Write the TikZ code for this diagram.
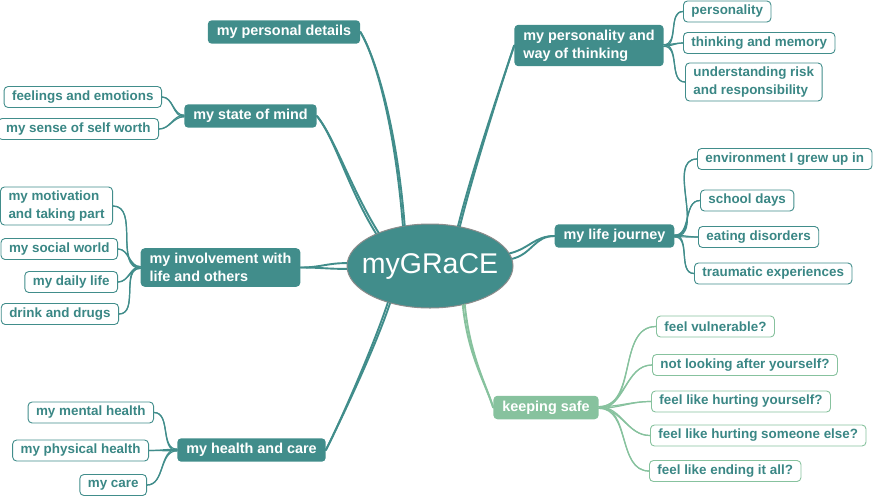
\documentclass[tikz,border=0pt]{standalone}
\usepackage{fontspec}
\setmainfont{Liberation Sans}
\usepackage{xcolor}
\usepackage{tikz}
\usetikzlibrary{
    positioning,
    shapes.geometric,
    calc,
}
\definecolor{grTeal}{RGB}{65,141,139}
\definecolor{grText}{RGB}{58,135,133}
\definecolor{grGreen}{RGB}{135,194,158}

\begin{document}
\begin{tikzpicture}[
        x=1pt, y=-1pt,
        root/.style={
            ellipse, draw=gray!90, line width=1pt, fill=grTeal, text=white,
            inner sep=0pt, minimum width=166pt, minimum height=84pt,
            font=\fontsize{28.5}{30}\selectfont
        },
        branch/.style={
            rectangle, rounded corners=4pt, fill=#1, text=white,
            inner xsep=9pt, inner ysep=5pt, minimum height=23pt, align=left,
            font=\fontsize{14.4}{18}\selectfont\bfseries
        },
        branch/.default=grTeal,
        leaf/.style={
            rectangle, rounded corners=4pt, draw=#1, line width=0.9pt,
            fill=white, text=grText, inner xsep=8pt, inner ysep=4pt,
            minimum height=21pt, align=left,
            font=\fontsize{13.4}{17.5}\selectfont\bfseries
        },
        leaf/.default=grTeal,
        conn/.style={draw=#1, line width=1.9pt, line cap=round},
        conn/.default=grTeal,
        twig/.style={draw=#1, line width=1.2pt, line cap=round},
        twig/.default=grTeal,
    ]
    \useasboundingbox (0,0) rectangle (890,496);

    % ── Centre ──
    \node[root] (root) at (430,266) {\makebox[0pt]{myGRaCE}};

    % ── Branches ──
    \node[branch] (pdet) at (284,32) {my personal details};
    \node[branch] (mind) at (250.5,116) {my state of mind};
    \node[branch] (invo) at (220.5,267.5) {my involvement with\\life and others};
    \node[branch] (heal) at (251.5,450) {my health and care};
    \node[branch] (pers) at (589,45.5) {my personality and\\way of thinking};
    \node[branch] (jour) at (614.5,236) {my life journey};
    \node[branch=grGreen] (safe) at (546,407.5) {keeping safe};

    % ── Leaves, right ──
    \node[leaf, anchor=west] (pty) at (683,11.5) {personality};
    \node[leaf, anchor=west] (thmem) at (683,43) {thinking and memory};
    \node[leaf, anchor=west] (risk) at (685,82) {understanding risk\\and responsibility};

    \node[leaf, anchor=west] (envi) at (697,159) {environment I grew up in};
    \node[leaf, anchor=west] (school) at (700,200.5) {school days};
    \node[leaf, anchor=west] (eat) at (698,237) {eating disorders};
    \node[leaf, anchor=west] (trauma) at (694,273.5) {traumatic experiences};

    \node[leaf=grGreen, anchor=west] (vuln) at (656,326.5) {feel vulnerable?};
    \node[leaf=grGreen, anchor=west] (notlook) at (652,365) {not looking after yourself?};
    \node[leaf=grGreen, anchor=west] (hurtself) at (651,401.5) {feel like hurting yourself?};
    \node[leaf=grGreen, anchor=west] (hurtother) at (650,435.5) {feel like hurting someone else?};
    \node[leaf=grGreen, anchor=west] (ending) at (649,471) {feel like ending it all?};

    % ── Leaves, left ──
    \node[leaf, anchor=east] (feel) at (162,97) {feelings and emotions};
    \node[leaf, anchor=east] (worth) at (159,129) {my sense of self worth};

    \node[leaf, anchor=east] (motiv) at (113,206) {my motivation\\and taking part};
    \node[leaf, anchor=east] (social) at (118,249) {my social world};
    \node[leaf, anchor=east] (daily) at (118,282) {my daily life};
    \node[leaf, anchor=east] (drink) at (119,314) {drink and drugs};

    \node[leaf, anchor=east] (mental) at (154,412.5) {my mental health};
    \node[leaf, anchor=east] (physical) at (149,450.5) {my physical health};
    \node[leaf, anchor=east] (care) at (147,485) {my care};

    % ── Main connectors (fanned, so they taper) ──
    \foreach \a in {122,124}
        \draw[conn] (root.\a) .. controls +(-8,-100) and +(15,25) .. (pdet.east);
    \foreach \a in {147,149}
        \draw[conn] (root.\a) .. controls +(-28,-45) and +(18,22) .. (mind.east);
    \foreach \a in {178,182}
        \draw[conn] (root.\a) .. controls +(-20,0) and +(20,0) .. (invo.east);
    \foreach \a in {221,223}
        \draw[conn] (root.\a) .. controls +(-15,45) and +(15,-30) .. (heal.east);
    \foreach \a in {53,55}
        \draw[conn] (root.\a) .. controls +(15,-60) and +(-10,30) .. (pers.west);
    \foreach \a in {5,9}
        \draw[conn] (root.\a) .. controls +(20,-5) and +(-20,0) .. (jour.west);
    \foreach \a in {310,312}
        \draw[conn=grGreen] (root.\a) .. controls +(5,50) and +(-8,-25) .. (safe.west);

    % ── Twigs ──
    \foreach \d in {-0.8,0.8} {
        \foreach \l in {pty, thmem, risk}
            \draw[twig] ([yshift=\d pt]pers.east) to[out=0, in=180] (\l.west);
        \foreach \l in {envi, school, eat, trauma}
            \draw[twig] ([yshift=\d pt]jour.east) to[out=0, in=180] (\l.west);
        \foreach \l in {vuln, notlook, hurtself, hurtother, ending}
            \draw[twig=grGreen] ([yshift=\d pt]safe.east) to[out=0, in=180] (\l.west);
        \foreach \l in {feel, worth}
            \draw[twig] ([yshift=\d pt]mind.west) to[out=180, in=0] (\l.east);
        \foreach \l in {motiv, social, daily, drink}
            \draw[twig] ([yshift=\d pt]invo.west) to[out=180, in=0] (\l.east);
        \foreach \l in {mental, physical, care}
            \draw[twig] ([yshift=\d pt]heal.west) to[out=180, in=0] (\l.east);
    }

\end{tikzpicture}
\end{document}
